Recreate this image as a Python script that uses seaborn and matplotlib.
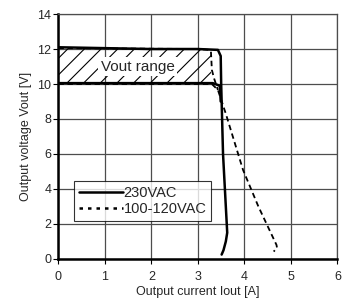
import matplotlib
matplotlib.use("Agg")
import matplotlib.pyplot as plt
import seaborn as sns
import pandas as pd

sns.set_theme(style="white")
plt.rcParams['font.family'] = ['Liberation Sans', 'DejaVu Sans']
plt.rcParams['hatch.linewidth'] = 0.8

# 230VAC, Vout set to max (12 V) and min (10 V)
ac230_hi_x = [0, 1.0, 2.0, 3.0, 3.43, 3.49, 3.50, 3.52, 3.54, 3.58, 3.62, 3.63, 3.60, 3.55, 3.51]
ac230_hi_y = [12.1, 12.05, 12.0, 12.0, 11.95, 11.6, 10.0, 8.0, 6.0, 4.0, 2.0, 1.5, 1.0, 0.5, 0.25]
ac230_lo_x = [0, 1.0, 2.0, 3.0, 3.32, 3.47, 3.49]
ac230_lo_y = [10.05, 10.05, 10.05, 10.05, 10.05, 9.9, 9.0]

# 100-120VAC, Vout set to max and min
ac100_hi_x = [0, 3.0, 3.25, 3.28, 3.30, 3.35, 3.43]
ac100_hi_y = [12.05, 12.0, 11.95, 11.85, 10.8, 10.3, 9.66]
ac100_lo_x = [0, 1.0, 2.0, 3.0, 3.30, 3.43, 3.60, 3.97, 4.30, 4.69, 4.70, 4.63]
ac100_lo_y = [10.0, 10.0, 10.0, 10.0, 10.0, 9.66, 8.3, 5.09, 3.0, 0.8, 0.65, 0.42]

# hatched adjustment range
range_x = [0, 3.28]
range_lo = [10.0, 10.0]
range_hi = [12.0, 12.0]

frames = []
for name, branch, xs, ys in [
    ("230VAC", "hi", ac230_hi_x, ac230_hi_y),
    ("230VAC", "lo", ac230_lo_x, ac230_lo_y),
    ("100-120VAC", "hi", ac100_hi_x, ac100_hi_y),
    ("100-120VAC", "lo", ac100_lo_x, ac100_lo_y),
]:
    frames.append(pd.DataFrame({"x": xs, "y": ys, "input": name, "branch": name + branch}))
df = pd.concat(frames, ignore_index=True)

fig, ax = plt.subplots(figsize=(3.5, 3.05), dpi=100)
fig.subplots_adjust(left=0.167, right=0.964, top=0.954, bottom=0.151)

ax.fill_between(range_x, range_lo, range_hi, facecolor="none", edgecolor="black",
                hatch="//", linewidth=0, zorder=1)

sns.lineplot(data=df, x="x", y="y", style="input", units="branch", estimator=None,
             sort=False, color="black", linewidth=1.8,
             dashes={"230VAC": "", "100-120VAC": (3, 2)}, ax=ax, zorder=3)
for line in ax.lines:
    if line.get_linestyle() != "-":
        line.set_linewidth(1.3)

ax.text(1.7, 11.0, "Vout range", fontsize=11, ha="center", va="center",
        bbox=dict(facecolor="white", edgecolor="none", pad=1.5), zorder=2)

ax.set_xlim(0, 6)
ax.set_ylim(0, 14)
ax.set_xticks(range(0, 7))
ax.set_yticks(range(0, 15, 2))
ax.grid(True, color="#4d4d4d", linewidth=0.9)
ax.set_axisbelow(True)
for side in ["top", "right"]:
    ax.spines[side].set_color("#4d4d4d")
    ax.spines[side].set_linewidth(0.9)
for side in ["left", "bottom"]:
    ax.spines[side].set_color("black")
    ax.spines[side].set_linewidth(1.8)
ax.tick_params(axis="both", direction="out", length=3.5, width=0.8, color="black",
               labelsize=9, left=True, bottom=True)
ax.tick_params(axis="x", pad=5)
ax.tick_params(axis="y", pad=1.5)

ax.set_xlabel("Output current Iout [A]", fontsize=9, labelpad=2)
ax.set_ylabel("Output voltage Vout [V]", fontsize=9, labelpad=4)

leg = ax.legend(loc="lower left", bbox_to_anchor=(0.055, 0.155), fontsize=10.5,
                frameon=True, fancybox=False, handlelength=3.0, handletextpad=0.05,
                borderpad=0.35, labelspacing=0.15, borderaxespad=0, title=None)
leg.get_frame().set_edgecolor("black")
leg.get_frame().set_linewidth(0.8)
for h in leg.get_lines():
    h.set_linewidth(1.8)
    if h.get_linestyle() != "-":
        h.set_dashes((1.4, 2.0))

fig.savefig("out.png", dpi=100)
